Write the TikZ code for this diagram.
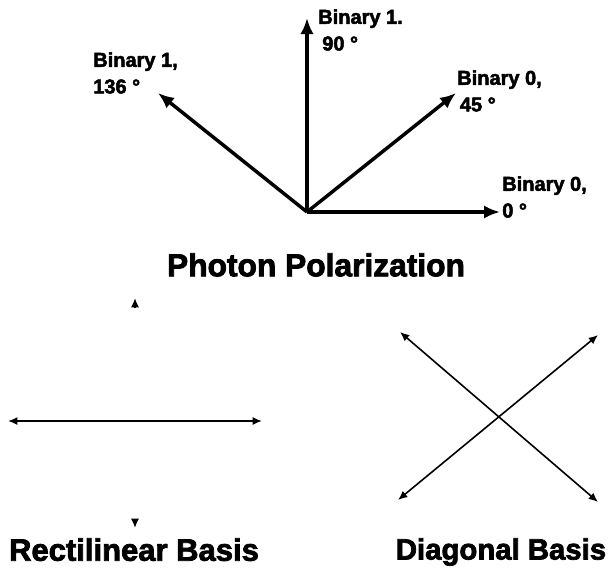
\documentclass[tikz,border=0pt]{standalone}
\usepackage{fontspec}
\setmainfont{Liberation Sans}[BoldFeatures={FakeBold=2.5}]
\usetikzlibrary{arrows.meta}
\begin{document}
\begin{tikzpicture}[x=0.75pt,y=-0.75pt,
  bigarrow/.style={line width=2.6pt,-{Latex[length=12pt,width=10pt]}},
  thinarrow/.style={line width=1.2pt,{Latex[length=7pt,width=6pt]}-{Latex[length=7pt,width=6pt]}},
  tiponly/.style={line width=1.2pt,-{Latex[length=7pt,width=6pt]}},
  lbl/.style={anchor=north west,inner sep=0pt,align=left,font=\bfseries\fontsize{15pt}{20pt}\selectfont},
  ttl/.style={anchor=north,inner sep=0pt,font=\bfseries\fontsize{23.8pt}{27pt}\selectfont}]
\useasboundingbox[fill=white] (0,0) rectangle (609,575);
% Photon polarization
\coordinate (o) at (307,212);
\coordinate (t90) at (307,18);
\coordinate (t135) at (158,93);
\coordinate (t45) at (456,93);
\coordinate (t0) at (500,212);
\draw[bigarrow] (o) -- (t90);
\draw[bigarrow] (o) -- (t135);
\draw[bigarrow] (o) -- (t45);
\draw[bigarrow] (o) -- (t0);
\node[lbl] (l135) at (93,52) {Binary 1,\\136 °};
\node[lbl] (l90) at (318,9) {Binary 1.\\\hspace*{3pt}90 °};
\node[lbl] (l45) at (457,70) {Binary 0,\\\hspace*{2pt}45 °};
\node[lbl] (l0) at (502,176) {Binary 0,\\0 °};
\node[ttl] (title) at (316,253) {Photon Polarization};
% Rectilinear basis
\coordinate (rl) at (8,421);
\coordinate (rr) at (262,421);
\coordinate (ru0) at (135,307);
\coordinate (ru) at (135,298);
\coordinate (rd0) at (135,519);
\coordinate (rd) at (135,528);
\draw[thinarrow] (rl) -- (rr);
\draw[tiponly] (ru0) -- (ru);
\draw[tiponly] (rd0) -- (rd);
\node[ttl,font=\bfseries\fontsize{23.25pt}{27pt}\selectfont] (rect) at (134,538) {Rectilinear Basis};
% Diagonal basis
\coordinate (nw) at (400,332);
\coordinate (se) at (598,502);
\coordinate (ne) at (598,335);
\coordinate (sw) at (398,500);
\draw[thinarrow] (nw) -- (se);
\draw[thinarrow] (sw) -- (ne);
\node[ttl,font=\bfseries\fontsize{22pt}{24pt}\selectfont] (diag) at (501,538) {Diagonal Basis};
\end{tikzpicture}
\end{document}
